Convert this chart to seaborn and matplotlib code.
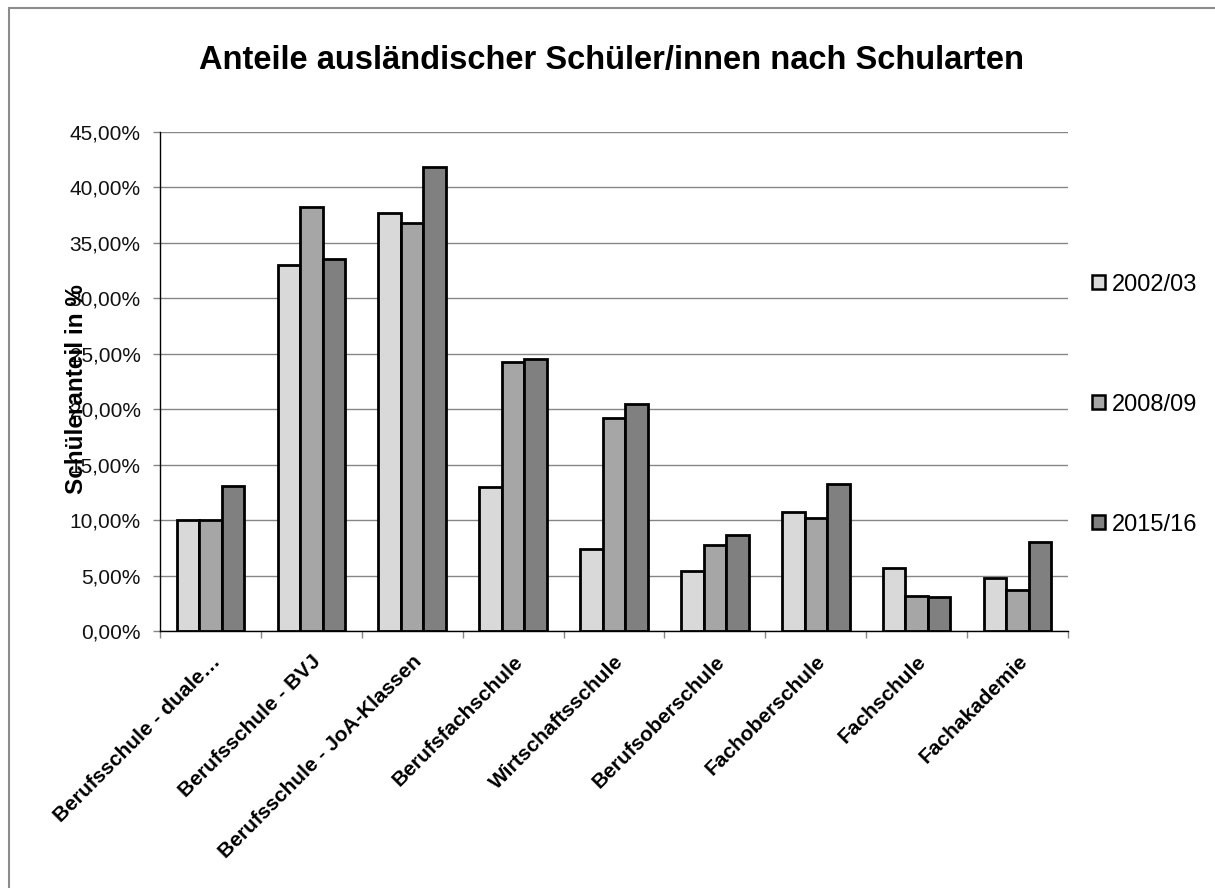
import pandas as pd
import matplotlib.pyplot as plt
import seaborn as sns
from matplotlib.patches import Rectangle
from matplotlib.ticker import FuncFormatter, FixedLocator

# ── Data ──────────────────────────────────────────────────────────────────────
schularten = ['Berufsschule - duale…', 'Berufsschule - BVJ', 'Berufsschule - JoA-Klassen',
              'Berufsfachschule', 'Wirtschaftsschule', 'Berufsoberschule',
              'Fachoberschule', 'Fachschule', 'Fachakademie']
jahre = ['2002/03', '2008/09', '2015/16']
anteil_2002 = [10.0, 33.0, 37.7, 13.0, 7.4, 5.4, 10.7, 5.7, 4.8]
anteil_2008 = [10.0, 38.2, 36.8, 24.3, 19.2, 7.8, 10.2, 3.2, 3.7]
anteil_2015 = [13.1, 33.5, 41.8, 24.5, 20.5, 8.7, 13.3, 3.1, 8.0]
farben = ['#D9D9D9', '#A6A6A6', '#808080']

df = pd.DataFrame({'Schulart': schularten * 3,
                   'Jahr': sum([[j] * len(schularten) for j in jahre], []),
                   'Anteil': anteil_2002 + anteil_2008 + anteil_2015})

# ── Setup ─────────────────────────────────────────────────────────────────────
sns.set_theme(style="white")
plt.rcParams['font.family'] = ['Liberation Sans', 'DejaVu Sans']
plt.rcParams['text.color'] = 'black'

fig = plt.figure(figsize=(12.15, 8.88), dpi=100)
ax = fig.add_axes([0.1317, 0.2894, 0.7473, 0.562])

sns.barplot(data=df, x='Schulart', y='Anteil', hue='Jahr', palette=farben,
            width=0.67, edgecolor='black', linewidth=2.0, ax=ax, saturation=1)

ax.set_ylim(0, 45)
ax.set_xlim(-0.5, len(schularten) - 0.5)
ax.set_yticks(range(0, 46, 5))
ax.yaxis.set_major_formatter(FuncFormatter(lambda v, p: f'{v:.2f}%'.replace('.', ',')))
ax.yaxis.grid(True, color='#868686', linewidth=1)
ax.set_axisbelow(True)

for s in ['top', 'right']:
    ax.spines[s].set_visible(False)
for s in ['left', 'bottom']:
    ax.spines[s].set_color('black')
    ax.spines[s].set_linewidth(1)

ax.tick_params(axis='y', which='major', left=True, length=5, width=1, color='#868686',
               labelsize=15, pad=9, labelcolor='#111111')
ax.set_xticks(range(len(schularten)))
ax.set_xticklabels(schularten, rotation=45, ha='right', rotation_mode='anchor',
                   fontsize=15, fontweight='bold', color='black')
ax.tick_params(axis='x', which='major', bottom=False, pad=9)
ax.xaxis.set_minor_locator(FixedLocator([i - 0.5 for i in range(len(schularten) + 1)]))
ax.tick_params(axis='x', which='minor', bottom=True, length=5, width=1, color='#868686')

ax.set_xlabel('')
ax.set_ylabel('Schüleranteil in %', fontsize=17.5, fontweight='bold', color='black')
ax.yaxis.set_label_coords(-0.079, 0.485)

fig.text(0.503, 0.932, 'Anteile ausländischer Schüler/innen nach Schularten',
         ha='center', va='center', fontsize=23.5, fontweight='bold', color='black')

leg = ax.legend(loc='upper left', bbox_to_anchor=(1.016, 0.735), frameon=False,
                fontsize=17, labelspacing=4.15, handlelength=0.55, handleheight=0.55,
                handletextpad=0.3, borderaxespad=0)
for h in leg.legend_handles:
    h.set_linewidth(1.8)

# gray frame around chart area
fig.patches.append(Rectangle((9 / 1215, -0.05), 1.1, 1.0 - 8 / 888 + 0.05,
                             transform=fig.transFigure, fill=False,
                             edgecolor='#8c8c8c', linewidth=1.5))

plt.savefig('out.png', dpi=100)
plt.close()
